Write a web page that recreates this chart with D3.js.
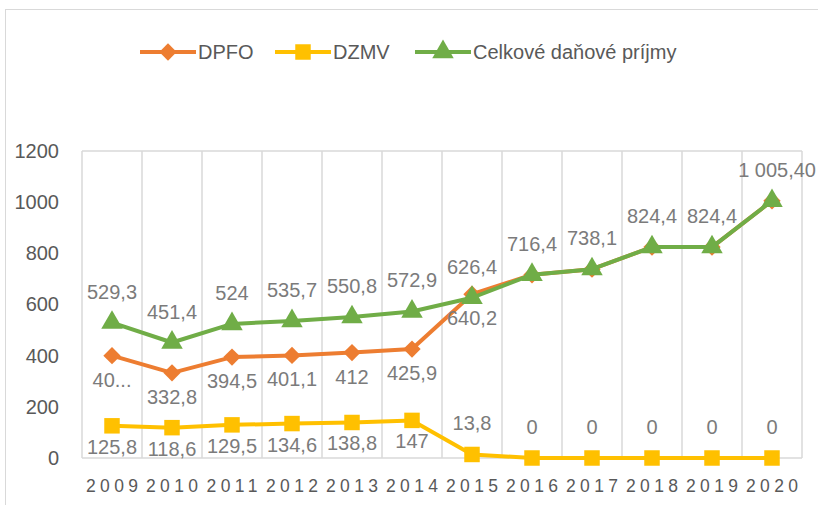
<!DOCTYPE html>
<html>
<head>
<meta charset="utf-8">
<script src="https://cdn.jsdelivr.net/npm/d3@7"></script>
<style>
  html, body { margin: 0; padding: 0; background: #fff; }
  svg { display: block; font-family: "Liberation Sans", Arial, sans-serif; }
</style>
</head>
<body>
<svg id="chart" width="818" height="505"></svg>
<script>
// ---- data ----
const years = ["2009","2010","2011","2012","2013","2014","2015","2016","2017","2018","2019","2020"];
const dpfo  = [400, 332.8, 394.5, 401.1, 412, 425.9, 640.2, 716.4, 738.1, 824.4, 824.4, 1005.4];
const dzmv  = [125.8, 118.6, 129.5, 134.6, 138.8, 147, 13.8, 0, 0, 0, 0, 0];
const celk  = [529.3, 451.4, 524, 535.7, 550.8, 572.9, 626.4, 716.4, 738.1, 824.4, 824.4, 1005.4];
const dpfoLabels = ["40...", "332,8", "394,5", "401,1", "412", "425,9", "640,2", null, null, null, null, null];
const dzmvLabels = ["125,8", "118,6", "129,5", "134,6", "138,8", "147", "13,8", "0", "0", "0", "0", "0"];
const celkLabels = ["529,3", "451,4", "524", "535,7", "550,8", "572,9", "626,4", "716,4", "738,1", "824,4", "824,4", "1 005,40"];
const yTicks = [0, 200, 400, 600, 800, 1000, 1200];
const seriesNames = ["DPFO", "DZMV", "Celkové daňové príjmy"];

const svg = d3.select("#chart");
const colors = { dpfo: "#ED7D31", dzmv: "#FFC000", celk: "#70AD47" };
const labelColor = "#7b7b7b";
const axisColor = "#595959";
const gridColor = "#d9d9d9";

// chart frame
svg.append("rect").attr("x", 5.5).attr("y", 9.5).attr("width", 840).attr("height", 540)
  .attr("fill", "none").attr("stroke", gridColor).attr("stroke-width", 1);

const x = d3.scaleBand().domain(years).range([82, 802]).padding(0);
const y = d3.scaleLinear().domain([0, 1200]).range([458, 151]);
const cx = d => x(d) + x.bandwidth() / 2;

// gridlines
const g = svg.append("g");
g.append("line").attr("x1", 82).attr("x2", 802).attr("y1", y(1200)).attr("y2", y(1200))
  .attr("stroke", gridColor).attr("stroke-width", 1.5);
const bounds = years.map(d => x(d)).concat([x.range()[1]]);
g.selectAll("line.v").data(bounds).enter().append("line").attr("class", "v")
  .attr("x1", d => d).attr("x2", d => d).attr("y1", y(1200)).attr("y2", y(0))
  .attr("stroke", gridColor).attr("stroke-width", 1.5);
g.append("line").attr("x1", 82).attr("x2", 802).attr("y1", y(0)).attr("y2", y(0))
  .attr("stroke", gridColor).attr("stroke-width", 1.5);

// y axis labels
const yAxis = d3.axisLeft(y).tickValues(yTicks).tickSize(0).tickPadding(0).tickFormat(d3.format("d"));
const ya = svg.append("g").attr("transform", "translate(59,0)").call(yAxis);
ya.select(".domain").remove();
ya.selectAll("text").attr("fill", axisColor).style("font-size", "20px")
  .style("font-family", "'Liberation Sans', Arial, sans-serif");

// x axis labels (letter-spaced)
const xAxis = d3.axisBottom(x).tickSize(0).tickPadding(0);
const xa = svg.append("g").attr("transform", "translate(0,480)").call(xAxis);
xa.select(".domain").remove();
xa.selectAll("text").attr("fill", axisColor).style("font-size", "17.5px")
  .style("letter-spacing", "4.4px").attr("dx", "2.2px").attr("dy", "0.7em")
  .style("font-family", "'Liberation Sans', Arial, sans-serif");

// symbols
const diamondType = {
  draw(ctx, size) {
    const r = Math.sqrt(size / 2);
    ctx.moveTo(0, -r); ctx.lineTo(r, 0); ctx.lineTo(0, r); ctx.lineTo(-r, 0); ctx.closePath();
  }
};
const symDiamond = d3.symbol().type(diamondType).size(150);
const symSquare = d3.symbol().type(d3.symbolSquare).size(240);
const symTriangle = d3.symbol().type(d3.symbolTriangle).size(200);

// series
const line = d3.line().x((d, i) => cx(years[i])).y(d => y(d));
function drawSeries(vals, color, sym) {
  svg.append("path").datum(vals).attr("d", line).attr("fill", "none")
    .attr("stroke", color).attr("stroke-width", 4).attr("stroke-linejoin", "round");
  svg.selectAll(null).data(vals).enter().append("path")
    .attr("d", sym)
    .attr("transform", (d, i) => `translate(${cx(years[i])},${y(d)})`)
    .attr("fill", color);
}
drawSeries(dzmv, colors.dzmv, symSquare);
drawSeries(dpfo, colors.dpfo, symDiamond);
drawSeries(celk, colors.celk, symTriangle);

// data labels
function drawLabels(vals, labels, offsetFn, anchorFn, xFn) {
  svg.selectAll(null).data(vals).enter().filter((d, i) => labels[i] !== null)
    .append("text")
    .attr("x", (d, i) => xFn ? xFn(i) : cx(years[i]))
    .attr("y", (d, i) => y(d) + offsetFn(i))
    .attr("text-anchor", (d, i) => anchorFn ? anchorFn(i) : "middle")
    .attr("dominant-baseline", "central")
    .attr("fill", labelColor).style("font-size", "20px")
    .text((d, i) => labels[i]);
}
drawLabels(dpfo, dpfoLabels, i => 24);
drawLabels(dzmv, dzmvLabels, i => (i < 6 ? 21 : -31));
drawLabels(celk, celkLabels, i => -31,
  i => (i === years.length - 1 ? "end" : "middle"),
  i => (i === years.length - 1 ? 816 : cx(years[i])));

// legend
const legend = svg.append("g");
const legItems = [
  { name: seriesNames[0], color: colors.dpfo, sym: symDiamond, x: 140 },
  { name: seriesNames[1], color: colors.dzmv, sym: symSquare, x: 275 },
  { name: seriesNames[2], color: colors.celk, sym: symTriangle, x: 415 }
];
const legY = 52;
legItems.forEach(it => {
  legend.append("line").attr("x1", it.x).attr("x2", it.x + 56).attr("y1", legY).attr("y2", legY)
    .attr("stroke", it.color).attr("stroke-width", 4);
  legend.append("path").attr("d", it.sym).attr("transform", `translate(${it.x + 28},${legY})`)
    .attr("fill", it.color);
  legend.append("text").attr("x", it.x + 58).attr("y", legY).attr("dominant-baseline", "central")
    .attr("fill", axisColor).style("font-size", "20px").text(it.name);
});
</script>
</body>
</html>
